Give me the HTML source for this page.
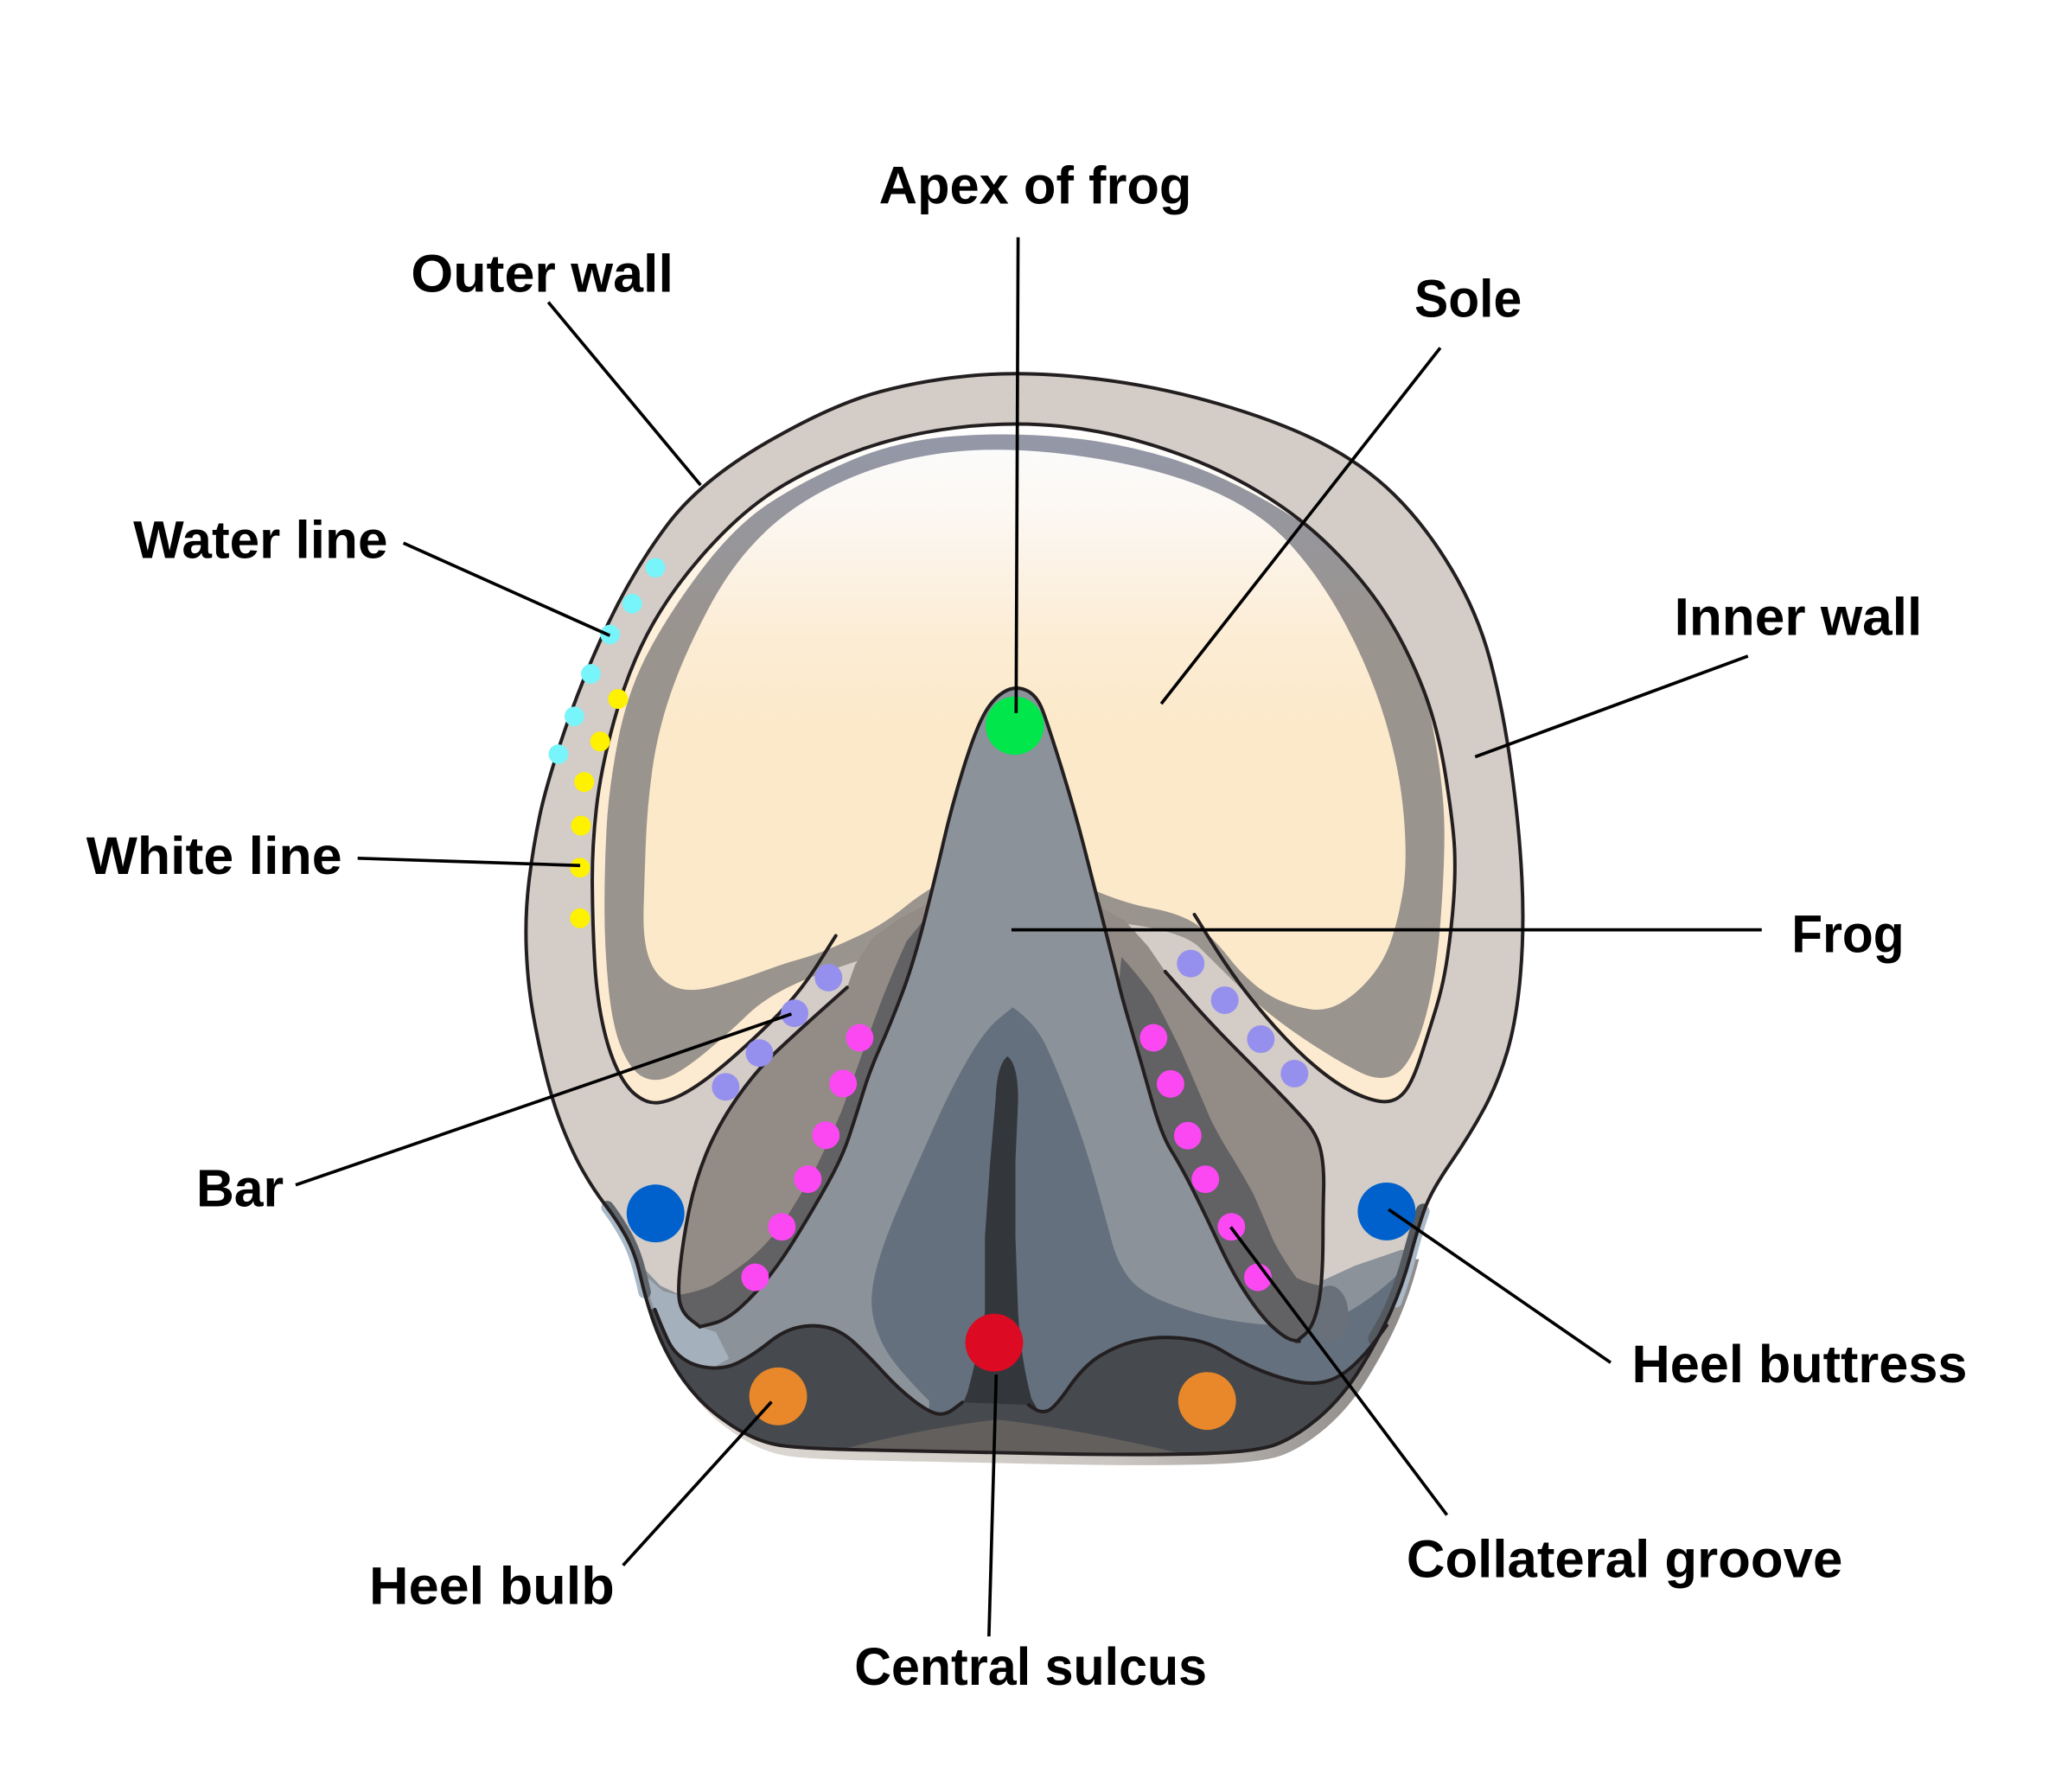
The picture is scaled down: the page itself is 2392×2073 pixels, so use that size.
<!DOCTYPE html>
<html>
<head>
<meta charset="utf-8">
<style>
  html,body{margin:0;padding:0;background:#ffffff;}
  svg{display:block;}
  text{font-family:"Liberation Sans",Arial,sans-serif;font-weight:700;font-size:40px;fill:#000;}
</style>
</head>
<body>
<svg width="2392" height="2073" viewBox="0 0 1560 1352" xmlns="http://www.w3.org/2000/svg">
  <defs>
    <clipPath id="hc">
      <path d="M738,283 Q776,280 824,285.5 Q872,291 918.5,304.5 Q965,318 996.5,334 Q1028,350 1051.5,373 Q1075,396 1095,429.5 Q1115,463 1124.5,499.5 Q1134,536 1140,579.5 Q1146,623 1148,661.5 Q1150,700 1147,735 Q1144,770 1137,793.5 Q1130,817 1119.5,836.5 Q1109,856 1094.5,877 Q1080,898 1075,911.5 Q1070,925 1064,947.5 Q1058,970 1049,990 Q1040,1010 1026.5,1032 Q1013,1054 995.5,1069 Q978,1084 962,1090 Q946,1096 897,1097 Q848,1098 779.5,1096.5 Q711,1095 656.5,1094 Q602,1093 586,1090 Q570,1087 553.5,1076.5 Q537,1066 526,1054 Q515,1042 506.5,1027 Q498,1012 492.5,996 Q487,980 483,962.5 Q479,945 472,932.5 Q465,920 456.5,909 Q448,898 440,884 Q432,870 424.5,851 Q417,832 411.5,809.5 Q406,787 402,764.5 Q398,742 397,716 Q396,690 399,665 Q402,640 407,616 Q412,592 426,551 Q440,510 459,470 Q478,430 503,396.5 Q528,363 578,334 Q628,305 664,295.5 Q700,286 738,283 Z"/>
    </clipPath>
    <clipPath id="shclip"><rect x="520" y="950" width="580" height="180"/></clipPath>
    <linearGradient id="shg" gradientUnits="userSpaceOnUse" x1="560" y1="0" x2="1030" y2="0">
      <stop offset="0" stop-color="#ddd7d2"/>
      <stop offset="0.6" stop-color="#cbc5c0"/>
      <stop offset="1" stop-color="#8f8c8a"/>
    </linearGradient>
    <linearGradient id="innerG" gradientUnits="userSpaceOnUse" x1="0" y1="320" x2="0" y2="520">
      <stop offset="0" stop-color="#ffffff"/>
      <stop offset="1" stop-color="#fcebd0"/>
    </linearGradient>
    <linearGradient id="bandG" gradientUnits="userSpaceOnUse" x1="0" y1="330" x2="0" y2="480">
      <stop offset="0" stop-color="#9397a7"/>
      <stop offset="1" stop-color="#9a948e"/>
    </linearGradient>
    <linearGradient id="soleG" gradientUnits="userSpaceOnUse" x1="0" y1="340" x2="0" y2="545">
      <stop offset="0" stop-color="#fbfbfb"/>
      <stop offset="0.3" stop-color="#fcf6ee"/>
      <stop offset="0.65" stop-color="#fcedd6"/>
      <stop offset="1" stop-color="#fce9ca"/>
    </linearGradient>
  </defs>

  <!-- bottom shadow -->
  <g clip-path="url(#shclip)">
    <path transform="translate(5,8)" fill="url(#shg)" d="M738,283 Q776,280 824,285.5 Q872,291 918.5,304.5 Q965,318 996.5,334 Q1028,350 1051.5,373 Q1075,396 1095,429.5 Q1115,463 1124.5,499.5 Q1134,536 1140,579.5 Q1146,623 1148,661.5 Q1150,700 1147,735 Q1144,770 1137,793.5 Q1130,817 1119.5,836.5 Q1109,856 1094.5,877 Q1080,898 1075,911.5 Q1070,925 1064,947.5 Q1058,970 1049,990 Q1040,1010 1026.5,1032 Q1013,1054 995.5,1069 Q978,1084 962,1090 Q946,1096 897,1097 Q848,1098 779.5,1096.5 Q711,1095 656.5,1094 Q602,1093 586,1090 Q570,1087 553.5,1076.5 Q537,1066 526,1054 Q515,1042 506.5,1027 Q498,1012 492.5,996 Q487,980 483,962.5 Q479,945 472,932.5 Q465,920 456.5,909 Q448,898 440,884 Q432,870 424.5,851 Q417,832 411.5,809.5 Q406,787 402,764.5 Q398,742 397,716 Q396,690 399,665 Q402,640 407,616 Q412,592 426,551 Q440,510 459,470 Q478,430 503,396.5 Q528,363 578,334 Q628,305 664,295.5 Q700,286 738,283 Z"/>
  </g>

  <!-- bluish outside heel strips (follow the outline exactly) -->
  <path d="M458,911 Q465,920 472,932.5 Q479,945 483,962.5 Q485,970 486,975" fill="none" stroke="#a9b9c7" stroke-width="9" stroke-linecap="round"/>
  <path d="M1074,914 Q1070,925 1064,947.5 Q1059,966 1053,982" fill="none" stroke="#a9b9c7" stroke-width="9" stroke-linecap="round"/>

  <!-- hoof base fill (outer wall) -->
  <path fill="#d3ccc7" d="M738,283 Q776,280 824,285.5 Q872,291 918.5,304.5 Q965,318 996.5,334 Q1028,350 1051.5,373 Q1075,396 1095,429.5 Q1115,463 1124.5,499.5 Q1134,536 1140,579.5 Q1146,623 1148,661.5 Q1150,700 1147,735 Q1144,770 1137,793.5 Q1130,817 1119.5,836.5 Q1109,856 1094.5,877 Q1080,898 1075,911.5 Q1070,925 1064,947.5 Q1058,970 1049,990 Q1040,1010 1026.5,1032 Q1013,1054 995.5,1069 Q978,1084 962,1090 Q946,1096 897,1097 Q848,1098 779.5,1096.5 Q711,1095 656.5,1094 Q602,1093 586,1090 Q570,1087 553.5,1076.5 Q537,1066 526,1054 Q515,1042 506.5,1027 Q498,1012 492.5,996 Q487,980 483,962.5 Q479,945 472,932.5 Q465,920 456.5,909 Q448,898 440,884 Q432,870 424.5,851 Q417,832 411.5,809.5 Q406,787 402,764.5 Q398,742 397,716 Q396,690 399,665 Q402,640 407,616 Q412,592 426,551 Q440,510 459,470 Q478,430 503,396.5 Q528,363 578,334 Q628,305 664,295.5 Q700,286 738,283 Z"/>

  <g clip-path="url(#hc)">
    <!-- white line / inner region -->
    <path fill="url(#innerG)" d="M630.5,706 L616.3,728.5 Q602,751 580.5,772 Q559,793 542.5,806.5 Q526,820 514,826 Q502,832 494.5,832 Q487,832 479.5,826 Q472,820 465.5,806.5 Q459,793 454.5,772 Q450,751 448.5,724 Q447,697 446.8,668.5 Q446.5,640 449.8,610.5 Q453,581 463,544.5 Q473,508 488,479 Q503,450 528,421 Q553,392 578,374.5 Q603,357 640.5,342.5 Q678,328 720.5,322.8 Q763,317.6 802,321.8 Q841,326 880,339.3 Q919,352.5 950,371.3 Q981,390 1004.5,413.5 Q1028,437 1043.5,460.5 Q1059,484 1071.5,514.5 Q1084,545 1090.3,584 Q1096.5,623 1097.3,641.5 Q1098,660 1096.5,680 Q1095,700 1092,721 Q1089,742 1083.5,760 Q1078,778 1072,796.5 Q1066,815 1060.5,822.5 Q1055,830 1047,831 Q1039,832 1025,826 Q1011,820 994.5,806.5 Q978,793 962,775 Q946,757 935,742 Q924,727 912.5,708.5 L901,690 Z"/>
    <!-- gray band -->
    <path fill="url(#bandG)" d="M705,708 Q640,726 610,738 Q580,750 564,765.5 Q548,781 531.5,794.5 Q515,808 504.5,812.5 Q494,817 485,812.5 Q476,808 469,791.5 Q462,775 459,745 Q456,715 456,685 Q456,655 457.5,625.5 Q459,596 466,559.5 Q473,523 488,494 Q503,465 528,431.5 Q553,398 579,380.5 Q605,363 641.5,347.5 Q678,332 720.5,329 Q763,326 804,330 Q845,334 882,345.5 Q919,357 958,379.5 Q997,402 1020,428 Q1043,454 1059,485 Q1075,516 1082,555 Q1089,594 1089.5,623 Q1090,652 1086.5,697 Q1083,742 1074,772 Q1065,802 1054,809.5 Q1043,817 1027,809.5 Q1011,802 984,784 Q957,766 938.5,748 Q920,730 905,715 Q890,700 830,695 Q770,690 705,708 Z"/>
    <!-- sole -->
    <path fill="url(#soleG)" d="M730,655 Q700,670 683.5,683.5 Q667,697 651,704.5 Q635,712 624,716.5 Q613,721 602,724 Q591,727 575,733 Q559,739 542.5,743.5 Q526,748 516,746.5 Q506,745 498.5,737.5 Q491,730 488,717.5 Q485,705 485.5,686.5 Q486,668 487,639 Q488,610 492,581 Q496,552 506,523 Q516,494 534.5,459 Q553,424 578,400.5 Q603,377 640.5,361 Q678,345 720.5,340.8 Q763,336.5 817.5,344.5 Q872,352.5 911,368.8 Q950,385 973.5,411 Q997,437 1015.5,472 Q1034,507 1045,543.5 Q1056,580 1059,616 Q1062,652 1058,674.5 Q1054,697 1048.5,712 Q1043,727 1032.5,739 Q1022,751 1011,757 Q1000,763 989,761.5 Q978,760 967,755.5 Q956,751 945.5,742 Q935,733 927,722.5 Q919,712 907,701 Q895,690 867.5,685 Q840,680 800,660 Q760,640 730,655 Z"/>

    <!-- frog + lower region -->
    <path fill="#8b9299" d="M528,1001 L538,998.5 Q548,996 559,986 Q570,976 580.5,962.5 Q591,949 602,931 Q613,913 624,893.5 Q635,874 640.5,857.5 Q646,841 651,824.5 Q656,808 664,790 Q672,772 680.5,749.5 Q689,727 697.5,693.5 Q706,660 712,634 Q718,608 726.5,580.5 Q735,553 741.5,540.5 Q748,528 756.5,522.5 Q765,517 773.5,520.5 Q782,524 786.5,536 Q791,548 800.5,578.5 Q810,609 817.5,638 Q825,667 833,698.5 Q841,730 844,742.5 Q847,755 854,778.5 Q861,802 868.5,829 Q876,856 883.5,868 Q891,880 900,898 Q909,916 919.5,938.5 Q930,961 941,977.5 Q952,994 961,1002 Q970,1010 975,1011 L980,1012 L990,1003 L997,985 L998,966 L1022,955 L1057,943 L1090,940 L1090,1120 L460,1120 L460,945 L481,952 L498,970 L511,976 L515,990 Z"/>
    <!-- light blue sliver left heel -->
    <path fill="#a4b0bb" d="M484,960 L500,974 L511,977 L515,991 L528,1001 L540,1005 L550,1025 L536,1033 L520,1030 L506,1018 L497,998 Z"/>
    <!-- slate central region -->
    <path fill="#64707e" d="M764,760 Q781,772 789,789 Q797,806 807.5,834 Q818,862 826,890.5 Q834,919 838.5,936 Q843,953 851.5,964 Q860,975 880.5,983 Q901,991 922,995 Q943,999 963.5,1000 Q984,1001 998.5,997 Q1013,993 1026.5,984 Q1040,975 1054,962 L1068,950 L1075,1110 L700,1110 L701,1057 Q676,1032 668,1018 Q660,1004 658,989.5 Q656,975 662,954 Q668,933 680.5,904.5 Q693,876 705.5,848 Q718,820 730.5,798.5 Q743,777 753.5,768.5 Q764,760 764,760 Z"/>
    <!-- right bar shadow extension -->
    <ellipse cx="1003" cy="991" rx="14" ry="21" fill="#69707a"/>

    <!-- left bar -->
    <path fill="#938b85" d="M639,745 L620.5,761.5 Q602,778 586,793 Q570,808 555.5,829 Q541,850 532.5,871 Q524,892 519.5,914.5 Q515,937 513,956.5 Q511,976 513,983.5 Q515,991 521.5,996 L528,1001 L538,998.5 Q548,996 559,986 Q570,976 580.5,962.5 Q591,949 602,931 Q613,913 624,893.5 Q635,874 640.5,857.5 Q646,841 651,824.5 Q656,808 664,790 Q672,772 680.5,749.5 Q689,727 697.5,693.5 L700,682 L680,692 L658,708 L645,728 Z"/>
    <path fill="#626163" d="M684,710 Q668,745 656.5,778 Q645,810 635,838 Q624,864 613,886 Q602,905 591,922 Q578,940 563,952 Q550,962 537,970 Q525,975 512,977 L513,983.5 Q515,991 521.5,996 L528,1001 L538,998.5 Q548,996 559,986 Q570,976 580.5,962.5 Q591,949 602,931 Q613,913 624,893.5 Q635,874 640.5,857.5 Q646,841 651,824.5 Q656,808 664,790 Q672,772 680.5,749.5 Q689,727 697.5,693.5 Z"/>
    <!-- right bar -->
    <path fill="#938b85" d="M879,733 L896,752.5 Q913,772 929.5,788.5 Q946,805 962,821.5 Q978,838 985.8,847 Q993.5,856 996.3,868 Q999,880 998.5,898 Q998,916 998,934 Q998,952 996.8,967 Q995.6,982 992.3,992.5 Q989,1003 983.5,1007.5 L978,1012 L975,1011 Q970,1010 961,1002 Q952,994 941,977.5 Q930,961 919.5,938.5 Q909,916 900,898 Q891,880 883.5,868 Q876,856 868.5,829 Q861,802 854,778.5 Q847,755 844,742.5 Q841,730 833,698.5 L829,684 L848,694 L866,714 Z"/>
    <path fill="#626163" d="M846,722 Q858,735 869.5,751 Q881,772 891,793 Q902,818 913,844 Q921,860 930,874 Q938,887 945.6,901 Q953,918 961,937 Q969,952 978,964 Q988,969 997,970 L995.6,982 L992.3,992.5 Q989,1003 983.5,1007.5 L978,1012 L975,1011 Q970,1010 961,1002 Q952,994 941,977.5 Q930,961 919.5,938.5 Q909,916 900,898 Q891,880 883.5,868 Q876,856 868.5,829 Q861,802 854,778.5 Q847,755 844,742.5 Z"/>

    <!-- central cleft -->
    <path fill="#33373c" d="M760,797 Q768,803 768,830 L766,876 L766,933 L768,990 Q770,1025 778,1055 L792,1080 L718,1080 L730,1050 Q738,1020 743,990 L743,933 L747,876 L751,830 Q752,803 760,797 Z"/>

    <!-- dark heel bulb region -->
    <path fill="#46494e" d="M494,988 L497,995.5 Q500,1003 504,1011.5 Q508,1020 516,1025.5 Q524,1031 536,1032 Q548,1033 559,1027 Q570,1021 580.5,1012.5 Q591,1004 602,1001.5 Q613,999 624,1001.5 Q635,1004 645.5,1014 Q656,1024 667,1036 Q678,1048 689,1056.5 Q700,1065 706.5,1066.5 Q713,1068 719.5,1063 L726,1058 L776,1060 L780.5,1063 Q785,1066 790,1064.5 Q795,1063 806.5,1046.5 Q818,1030 830.5,1022.5 Q843,1015 855.5,1012 Q868,1009 879,1009 Q890,1009 901,1011 Q912,1013 923.5,1020 Q935,1027 947.5,1032.5 Q960,1038 974,1041.5 Q988,1045 999,1042.5 Q1010,1040 1020,1031 Q1030,1022 1038,1011 L1046,1000 L1080,1000 L1080,1120 L470,1120 L470,985 Z"/>
    <path fill="#625f5d" d="M610,1100 Q690,1078 752,1071 Q815,1078 905,1100 Z"/>

    <!-- dark inner heel strips (follow outline) -->
    <path d="M458,911 Q465,920 472,932.5 Q479,945 483,962.5 Q485,970 486,975" fill="none" stroke="#5f656b" stroke-width="10" stroke-linecap="round"/>
    <path d="M1074,914 Q1070,925 1064,947.5 Q1058,970 1049,990 Q1044,1000 1038,1010" fill="none" stroke="#555a60" stroke-width="12" stroke-linecap="round"/>
  </g>

  <!-- outlines -->
  <g fill="none" stroke="#231f20" stroke-width="2.6" stroke-linejoin="round" stroke-linecap="round">
    <path d="M738,283 Q776,280 824,285.5 Q872,291 918.5,304.5 Q965,318 996.5,334 Q1028,350 1051.5,373 Q1075,396 1095,429.5 Q1115,463 1124.5,499.5 Q1134,536 1140,579.5 Q1146,623 1148,661.5 Q1150,700 1147,735 Q1144,770 1137,793.5 Q1130,817 1119.5,836.5 Q1109,856 1094.5,877 Q1080,898 1075,911.5 Q1070,925 1064,947.5 Q1058,970 1049,990 Q1040,1010 1026.5,1032 Q1013,1054 995.5,1069 Q978,1084 962,1090 Q946,1096 897,1097 Q848,1098 779.5,1096.5 Q711,1095 656.5,1094 Q602,1093 586,1090 Q570,1087 553.5,1076.5 Q537,1066 526,1054 Q515,1042 506.5,1027 Q498,1012 492.5,996 Q487,980 483,962.5 Q479,945 472,932.5 Q465,920 456.5,909 Q448,898 440,884 Q432,870 424.5,851 Q417,832 411.5,809.5 Q406,787 402,764.5 Q398,742 397,716 Q396,690 399,665 Q402,640 407,616 Q412,592 426,551 Q440,510 459,470 Q478,430 503,396.5 Q528,363 578,334 Q628,305 664,295.5 Q700,286 738,283 Z"/>
    <path d="M630.5,706 L616.3,728.5 Q602,751 580.5,772 Q559,793 542.5,806.5 Q526,820 514,826 Q502,832 494.5,832 Q487,832 479.5,826 Q472,820 465.5,806.5 Q459,793 454.5,772 Q450,751 448.5,724 Q447,697 446.8,668.5 Q446.5,640 449.8,610.5 Q453,581 463,544.5 Q473,508 488,479 Q503,450 528,421 Q553,392 578,374.5 Q603,357 640.5,342.5 Q678,328 720.5,322.8 Q763,317.6 802,321.8 Q841,326 880,339.3 Q919,352.5 950,371.3 Q981,390 1004.5,413.5 Q1028,437 1043.5,460.5 Q1059,484 1071.5,514.5 Q1084,545 1090.3,584 Q1096.5,623 1097.3,641.5 Q1098,660 1096.5,680 Q1095,700 1092,721 Q1089,742 1083.5,760 Q1078,778 1072,796.5 Q1066,815 1060.5,822.5 Q1055,830 1047,831 Q1039,832 1025,826 Q1011,820 994.5,806.5 Q978,793 962,775 Q946,757 935,742 Q924,727 912.5,708.5 L901,690"/>
    <path d="M639,745 L620.5,761.5 Q602,778 586,793 Q570,808 555.5,829 Q541,850 532.5,871 Q524,892 519.5,914.5 Q515,937 513,956.5 Q511,976 513,983.5 Q515,991 521.5,996 L528,1001"/>
    <path d="M879,733 L896,752.5 Q913,772 929.5,788.5 Q946,805 962,821.5 Q978,838 985.8,847 Q993.5,856 996.3,868 Q999,880 998.5,898 Q998,916 998,934 Q998,952 996.8,967 Q995.6,982 992.3,992.5 Q989,1003 983.5,1007.5 L978,1012"/>
    <path d="M528,1001 L538,998.5 Q548,996 559,986 Q570,976 580.5,962.5 Q591,949 602,931 Q613,913 624,893.5 Q635,874 640.5,857.5 Q646,841 651,824.5 Q656,808 664,790 Q672,772 680.5,749.5 Q689,727 697.5,693.5 Q706,660 712,634 Q718,608 726.5,580.5 Q735,553 741.5,540.5 Q748,528 756.5,522.5 Q765,517 773.5,520.5 Q782,524 786.5,536 Q791,548 800.5,578.5 Q810,609 817.5,638 Q825,667 833,698.5 Q841,730 844,742.5 Q847,755 854,778.5 Q861,802 868.5,829 Q876,856 883.5,868 Q891,880 900,898 Q909,916 919.5,938.5 Q930,961 941,977.5 Q952,994 961,1002 Q970,1010 975,1011 L980,1012"/>
    <path d="M494,988 L497,995.5 Q500,1003 504,1011.5 Q508,1020 516,1025.5 Q524,1031 536,1032 Q548,1033 559,1027 Q570,1021 580.5,1012.5 Q591,1004 602,1001.5 Q613,999 624,1001.5 Q635,1004 645.5,1014 Q656,1024 667,1036 Q678,1048 689,1056.5 Q700,1065 706.5,1066.5 Q713,1068 719.5,1063 L726,1058"/>
    <path d="M776,1060 L780.5,1063 Q785,1066 790,1064.5 Q795,1063 806.5,1046.5 Q818,1030 830.5,1022.5 Q843,1015 855.5,1012 Q868,1009 879,1009 Q890,1009 901,1011 Q912,1013 923.5,1020 Q935,1027 947.5,1032.5 Q960,1038 974,1041.5 Q988,1045 999,1042.5 Q1010,1040 1020,1031 Q1030,1022 1038,1011 L1046,1000"/>
  </g>

  <!-- dots -->
  <g fill="#78f5fa">
    <circle cx="494.4" cy="428.3" r="7.4"/>
    <circle cx="476.9" cy="455.4" r="7.4"/>
    <circle cx="460.2" cy="478.7" r="7.4"/>
    <circle cx="445.7" cy="508.4" r="7.4"/>
    <circle cx="433.2" cy="540.5" r="7.4"/>
    <circle cx="421.2" cy="569" r="7.4"/>
  </g>
  <g fill="#fff200">
    <circle cx="466.2" cy="527.4" r="7.5"/>
    <circle cx="452.7" cy="559.4" r="7.5"/>
    <circle cx="440.7" cy="590" r="7.5"/>
    <circle cx="438.2" cy="622.9" r="7.5"/>
    <circle cx="437.5" cy="654.6" r="7.5"/>
    <circle cx="437.5" cy="692.8" r="7.5"/>
  </g>
  <g fill="#958fee">
    <circle cx="625" cy="737.6" r="10.4"/>
    <circle cx="599.4" cy="764.5" r="10.4"/>
    <circle cx="572.9" cy="794.5" r="10.4"/>
    <circle cx="547.4" cy="820" r="10.4"/>
    <circle cx="898.2" cy="727" r="10.4"/>
    <circle cx="923.9" cy="754.6" r="10.4"/>
    <circle cx="951.1" cy="784" r="10.4"/>
    <circle cx="976.5" cy="810" r="10.4"/>
  </g>
  <g fill="#fb48f3">
    <circle cx="648.5" cy="783" r="10.4"/>
    <circle cx="636" cy="817.5" r="10.4"/>
    <circle cx="623" cy="856.5" r="10.4"/>
    <circle cx="609.4" cy="889.7" r="10.4"/>
    <circle cx="589.8" cy="925.6" r="10.4"/>
    <circle cx="569.6" cy="963.7" r="10.4"/>
    <circle cx="870.2" cy="783" r="10.4"/>
    <circle cx="883" cy="817.8" r="10.4"/>
    <circle cx="896" cy="856.8" r="10.4"/>
    <circle cx="909.3" cy="889.7" r="10.4"/>
    <circle cx="928.9" cy="925.6" r="10.4"/>
    <circle cx="948.9" cy="963.7" r="10.4"/>
  </g>
  <circle cx="494.5" cy="915.5" r="21.8" fill="#0061cc"/>
  <circle cx="1046" cy="914" r="21.8" fill="#0061cc"/>
  <circle cx="587" cy="1053.5" r="21.8" fill="#e8882a"/>
  <circle cx="910.6" cy="1057" r="21.8" fill="#e8882a"/>
  <circle cx="750" cy="1013" r="21.8" fill="#dc0a23"/>
  <circle cx="765.5" cy="547.5" r="22" fill="#00e64b"/>

  <!-- leader lines -->
  <g stroke="#000" stroke-width="2.4" stroke-linecap="butt" fill="none">
    <line x1="768" y1="179" x2="766.5" y2="538"/>
    <line x1="413.6" y1="228" x2="528.5" y2="366"/>
    <line x1="1086.5" y1="262.4" x2="876" y2="531"/>
    <line x1="304.3" y1="409.7" x2="460" y2="479.5"/>
    <line x1="1318.6" y1="495" x2="1112.8" y2="571"/>
    <line x1="269.8" y1="647.5" x2="437.6" y2="653"/>
    <line x1="763" y1="701.5" x2="1329" y2="701.5"/>
    <line x1="223" y1="894" x2="597" y2="765"/>
    <line x1="1215" y1="1028" x2="1047.5" y2="912.5"/>
    <line x1="1091.5" y1="1143" x2="928.4" y2="925.8"/>
    <line x1="470" y1="1181" x2="582" y2="1057.6"/>
    <line x1="746" y1="1234.6" x2="751.5" y2="1037"/>
  </g>

  <!-- labels -->
  <text x="663" y="153.5" textLength="236" lengthAdjust="spacingAndGlyphs">Apex of frog</text>
  <text x="310" y="220" textLength="198" lengthAdjust="spacingAndGlyphs">Outer wall</text>
  <text x="1067" y="239" textLength="81" lengthAdjust="spacingAndGlyphs">Sole</text>
  <text x="100.5" y="421" textLength="192" lengthAdjust="spacingAndGlyphs">Water line</text>
  <text x="1263" y="479" textLength="187" lengthAdjust="spacingAndGlyphs">Inner wall</text>
  <text x="65" y="659.5" textLength="193" lengthAdjust="spacingAndGlyphs">White line</text>
  <text x="1351.5" y="718.5" textLength="85" lengthAdjust="spacingAndGlyphs">Frog</text>
  <text x="148" y="910" textLength="66" lengthAdjust="spacingAndGlyphs">Bar</text>
  <text x="1231" y="1043" textLength="253" lengthAdjust="spacingAndGlyphs">Heel buttress</text>
  <text x="1061" y="1190" textLength="329" lengthAdjust="spacingAndGlyphs">Collateral groove</text>
  <text x="278.5" y="1210" textLength="185" lengthAdjust="spacingAndGlyphs">Heel bulb</text>
  <text x="644.5" y="1271" textLength="266" lengthAdjust="spacingAndGlyphs">Central sulcus</text>
</svg>
</body>
</html>
